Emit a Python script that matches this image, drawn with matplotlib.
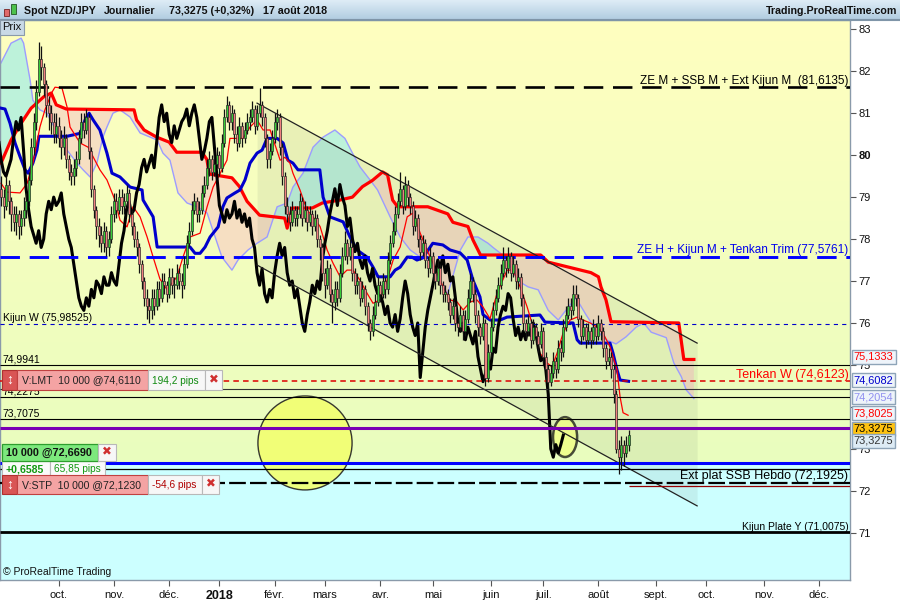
import numpy as np
import pandas as pd
import matplotlib
matplotlib.use('Agg')
import matplotlib.pyplot as plt
from matplotlib.patches import Rectangle, Ellipse

plt.rcParams['font.family'] = ['Liberation Sans', 'DejaVu Sans']
plt.rcParams['lines.scale_dashes'] = False
plt.rcParams['axes.unicode_minus'] = False

# ---------------- data ----------------
first_open = 79.2
closes = [
79.0,78.8,79.3,78.9,78.6,78.4,78.6,78.3,78.5,78.7,
78.9,79.4,80.2,80.8,81.5,82.3,82.1,81.7,81.2,81.0,
80.8,80.5,80.7,80.4,80.2,80.4,79.9,79.6,79.5,79.7,
79.9,80.4,80.8,80.6,80.9,80.1,79.2,78.7,78.3,
78.1,77.9,78.2,77.8,78.0,78.6,78.9,78.7,79.0,78.8,
78.9,79.1,78.6,78.3,78.0,77.8,77.4,77.0,76.6,76.4,
76.3,76.6,76.4,76.8,76.6,77.0,76.9,76.7,77.1,76.9,
76.9,77.2,77.0,76.9,77.4,77.9,78.2,78.7,78.9,78.6,
78.7,79.1,79.3,79.7,79.9,79.6,79.8,80.0,79.7,
80.3,80.9,81.2,80.8,81.0,80.5,80.3,80.7,80.4,80.6,
80.8,80.9,81.1,80.7,81.0,81.2,80.9,80.4,79.9,80.1,
80.4,80.8,80.9,80.2,79.5,78.8,78.6,78.4,78.7,78.5,
78.6,78.9,78.5,78.7,78.4,78.6,78.3,78.5,78.0,77.8,
77.2,76.9,77.3,76.7,76.5,76.8,76.6,77.2,77.6,
77.9,77.6,77.8,77.2,76.9,77.0,76.6,76.8,76.4,76.0,
75.8,76.2,76.5,76.9,76.7,77.0,76.8,77.5,77.9,78.2,
78.6,78.9,79.2,78.8,79.3,79.0,78.8,78.3,78.5,78.0,
77.7,77.9,77.5,77.3,77.6,77.2,77.0,77.3,76.9,76.7,
76.7,76.5,76.2,76.4,76.0,75.9,76.2,75.8,76.1,
76.6,77.0,76.7,76.2,75.9,75.7,76.0,74.7,75.3,75.9,
76.3,76.6,76.9,77.2,77.5,77.3,77.6,77.2,77.4,77.0,
77.1,76.6,76.0,75.8,76.0,75.6,75.9,75.7,75.5,75.8,
75.2,74.9,74.6,74.8,75.1,74.9,75.4,75.3,75.9,76.2,
76.4,76.3,76.7,76.6,76.1,75.7,75.9,75.6,75.8,
75.6,75.9,75.7,76.0,75.8,75.4,75.1,75.2,74.9,74.3,
73.0,72.8,73.1,72.9,73.1,73.3275]
highs = [
79.5,79.2,79.5,79.4,79.0,78.8,78.8,78.7,78.7,79.0,
79.1,79.6,80.4,81.0,81.8,82.7,82.6,82.2,81.8,81.4,
81.2,81.0,81.0,80.9,80.6,80.7,80.5,80.0,79.8,79.9,
80.1,80.6,81.0,81.0,81.1,81.0,80.2,79.3,78.8,
78.5,78.3,78.4,78.3,78.2,78.8,79.1,79.1,79.2,79.2,
79.1,79.3,79.2,78.7,78.4,78.2,77.9,77.5,77.1,76.8,
76.6,76.8,76.8,77.0,77.0,77.2,77.2,77.0,77.3,77.3,
77.1,77.4,77.3,77.2,77.6,78.1,78.4,78.9,79.1,79.0,
78.9,79.3,79.5,79.9,80.1,80.0,80.0,80.2,80.1,
80.5,81.1,81.4,81.3,81.2,81.1,80.7,80.9,80.8,80.8,
81.0,81.1,81.3,81.2,81.2,81.6,81.3,81.0,80.5,80.3,
80.6,81.0,81.1,81.0,80.3,79.6,79.0,78.8,78.9,78.8,
78.8,79.1,79.0,78.9,78.8,78.8,78.7,78.7,78.6,78.1,
77.9,77.3,77.5,77.4,76.8,77.0,77.0,77.4,77.8,
78.2,78.0,78.0,77.9,77.3,77.2,77.1,77.0,76.9,76.5,
76.1,76.4,76.7,77.1,77.0,77.2,77.1,77.7,78.1,78.4,
78.8,79.1,79.6,79.3,79.5,79.4,79.1,78.9,78.7,78.6,
78.1,78.1,78.0,77.6,77.8,77.7,77.3,77.5,77.4,77.0,
76.9,76.8,76.6,76.6,76.5,76.1,76.4,76.3,76.3,
76.8,77.2,77.1,76.8,76.3,76.0,76.2,76.1,75.5,76.1,
76.5,76.8,77.1,77.4,77.8,77.6,77.8,77.7,77.6,77.5,
77.3,77.2,76.7,76.1,76.2,76.1,76.1,76.0,75.8,76.0,
75.9,75.3,75.0,75.0,75.3,75.2,75.6,75.6,76.1,76.4,
76.6,76.6,76.9,76.9,76.7,76.2,76.1,76.0,76.0,
75.9,76.1,76.0,76.2,76.1,75.9,75.5,75.4,75.3,75.0,
74.4,73.2,73.3,73.2,73.3,73.45]
lows = [
78.8,78.5,78.7,78.6,78.2,78.2,78.1,78.0,78.1,78.3,
78.5,78.8,79.3,80.0,80.6,81.4,81.8,81.4,80.9,80.6,
80.5,80.3,80.3,80.2,79.9,80.0,79.7,79.4,79.3,79.3,
79.5,79.8,80.3,80.4,80.5,79.9,79.0,78.5,78.0,
77.8,77.7,77.7,77.6,77.6,77.9,78.4,78.5,78.6,78.6,
78.6,78.8,78.4,78.1,77.8,77.6,77.2,76.8,76.4,76.1,
76.0,76.1,76.2,76.3,76.4,76.5,76.7,76.5,76.6,76.7,
76.6,76.8,76.8,76.6,76.8,77.3,77.8,78.1,78.6,78.4,
78.4,78.6,79.0,79.2,79.5,79.4,79.5,79.7,79.5,
79.6,80.2,80.8,80.6,80.6,80.3,80.1,80.2,80.2,80.3,
80.5,80.6,80.8,80.5,80.6,80.9,80.7,80.2,79.7,79.7,
80.0,80.3,80.6,80.0,79.3,78.6,78.4,78.2,78.3,78.3,
78.3,78.5,78.3,78.4,78.2,78.3,78.1,78.2,77.8,77.5,
77.0,76.6,76.8,76.5,76.0,76.3,76.4,76.5,77.1,
77.5,77.4,77.5,77.0,76.7,76.7,76.4,76.5,76.2,75.8,
75.6,75.7,76.1,76.4,76.5,76.6,76.6,76.7,77.4,77.8,
78.1,78.5,78.8,78.6,78.7,78.8,78.6,78.1,78.2,77.8,
77.5,77.6,77.3,77.1,77.2,77.0,76.8,76.9,76.7,76.5,
76.5,76.3,76.0,76.1,75.8,75.7,75.8,75.6,75.7,
76.0,76.5,76.5,76.0,75.7,75.5,75.6,74.5,74.6,75.2,
75.8,76.2,76.5,76.8,77.1,77.1,77.2,77.0,77.1,76.8,
76.8,76.4,75.8,75.6,75.7,75.4,75.5,75.5,75.3,75.4,
75.0,74.6,74.4,74.5,74.7,74.7,74.8,75.1,75.2,75.8,
76.1,76.1,76.2,76.4,75.9,75.5,75.6,75.4,75.5,
75.4,75.5,75.5,75.6,75.6,75.2,74.9,75.0,74.7,74.1,
72.9,72.4,72.5,72.6,72.8,72.95]

# Ichimoku lines: (bar index, price)
ssb_pts = [(0,79.81),(4,80.36),(8,80.76),(12,81.12),(17,81.39),(20,81.48),(22,81.2),(26,81.1),(53,81.08),(54,80.84),(57,80.6),(62,80.43),(67,80.31),(70,80.07),(80,80.07),(82,79.9),(83,79.55),(92,79.46),(95,79.25),(98,78.9),(103,78.57),(113,78.5),(114,78.26),(116,78.74),(124,78.74),(128,78.86),(135,78.93),(140,79.0),(144,79.25),(148,79.4),(152,79.6),(154,79.53),(156,78.93),(158,78.77),(170,78.77),(178,78.6),(180,78.4),(186,78.3),(188,77.98),(191,77.62),(215,77.62),(218,77.45),(235,77.2),(238,77.1),(239,76.86),(241,76.55),(243,76.03),(270,76.0),(272,75.13),(276,75.13)]
ssa_pts = [(0,82.2),(4,82.67),(8,82.79),(9,82.67),(11.6,81.79),(12.7,81.31),(15.5,81.08),(18.3,81.0),(20.3,80.77),(23.5,80.43),(26.3,80.12),(30.3,79.81),(32.7,79.65),(35.5,79.48),(38.2,79.81),(40.6,80.43),(42.2,80.67),(44.6,81.0),(47.4,81.08),(51.4,80.91),(55.4,80.53),(59.4,80.43),(62.2,80.36),(64.5,80.05),(67.3,79.88),(70.5,79.1),(74.1,78.86),(78.1,78.77),(82.1,78.62),(85.3,78.05),(88,77.57),(92,77.26),(94.4,77.5),(98.4,77.74),(102,77.9),(106,78.05),(110,78.77),(114,78.86),(116.3,79.24),(120.3,79.57),(124.3,80.19),(128.3,80.43),(133,80.6),(137,80.4),(140,80.05),(143,79.72),(147,79.41),(150,79.17),(155,78.53),(159,78.05),(163,77.74),(167,77.57),(171,77.5),(175,76.95),(178,76.7),(183,77.74),(186,78.05),(190,78.05),(194,77.9),(196,77.8),(199,77.66),(203,77.33),(206,77.0),(210,76.86),(214,76.79),(218,76.3),(222,76.07),(225,76.3),(229,76.6),(233,76.2),(237,75.83),(241,75.6),(245,75.5),(249,75.67),(253,75.9),(256,76.0),(259,75.78),(265,75.65),(268,75.05),(271,74.72),(273,74.4),(276,74.2)]
kijun_pts = [(0,81.12),(1.6,81.1),(3.6,80.76),(5.6,80.29),(7.6,79.96),(9.6,79.65),(10.8,79.57),(12.7,79.81),(14.3,80.12),(15.1,80.45),(26.3,80.45),(31.5,80.52),(33.5,80.84),(35.1,81.0),(36.7,80.84),(39.4,80.6),(42.2,80.05),(44.2,79.57),(47.4,79.48),(51.4,79.24),(56.2,79.17),(56.6,78.93),(60.6,78.53),(62.2,77.81),(75.3,77.81),(77.3,77.66),(79.3,77.66),(81.3,77.81),(83.3,78.05),(86.5,78.29),(88.4,78.77),(90,78.98),(93.2,79.1),(95.2,79.17),(97.2,79.41),(99.2,79.81),(102,80.05),(104,80.12),(106,80.4),(110,80.4),(112.4,80.29),(114.3,79.88),(116.3,79.81),(118.3,79.65),(127,79.65),(128.3,79.0),(131,78.53),(136.3,78.41),(139,78.05),(141.8,77.74),(145.8,77.57),(148.2,77.33),(150.2,77.1),(155,77.1),(157,77.26),(159,77.33),(161.8,77.57),(163.7,77.57),(165.7,77.5),(168,77.55),(172,77.9),(176,77.86),(178.9,77.74),(182.9,77.67),(185.7,77.5),(188,77.02),(190.8,76.62),(192,76.2),(194.8,76.07),(198.8,76.07),(201.6,76.14),(214.7,76.19),(216.7,76.02),(227.9,76.0),(229.5,75.6),(230.7,75.52),(242.6,75.52),(243.8,75.28),(245.4,74.88),(246.6,74.64),(250,74.61)]
tenkan_pts = [(0,79.33),(2.4,79.12),(7.6,79.1),(10.4,79.33),(12.7,79.81),(15.5,80.67),(17.5,81.08),(20.3,81.5),(21.5,81.62),(24.3,81.6),(26.3,81.15),(27.5,80.67),(31.5,80.29),(34.7,80.19),(36.7,79.96),(39.4,79.65),(42.2,79.41),(45.4,78.93),(47.4,78.45),(50.2,78.29),(52.6,78.77),(55.4,78.53),(58.2,78.05),(60.6,77.57),(63.3,77.05),(66.1,76.8),(70.1,77.1),(72.5,77.57),(75.3,78.05),(79.3,78.14),(82.1,78.77),(84.5,79.24),(90,79.88),(91.2,80.4),(96.4,80.4),(99.2,80.67),(102,80.84),(104.4,80.6),(107.2,80.6),(111.2,79.88),(113.1,79.95),(115.1,79.81),(116.3,79.57),(119.1,79.17),(121.9,78.69),(124.3,78.53),(127.1,78.3),(129.9,77.74),(132.3,77.42),(135.1,77.1),(137.8,77.26),(140.2,77.26),(143,77.02),(145.8,76.71),(148.2,76.47),(151,76.55),(153.8,77.02),(156.2,77.5),(159,77.81),(161.8,78.53),(164.1,78.62),(167,78.14),(169.7,77.74),(172.1,77.42),(176.1,76.86),(178.9,76.55),(181.7,76.5),(184.1,76.31),(186.9,76.5),(189.6,76.55),(192,76.38),(194.8,76.1),(197.6,76.71),(201.6,77.26),(204,77.26),(206.8,76.86),(209.6,76.38),(212,75.9),(214.7,75.28),(217.5,75.05),(219.5,74.95),(221.5,75.28),(223.9,75.76),(226.7,76.07),(229.5,76.14),(231.9,76.07),(234.7,76.0),(237.5,75.9),(239.8,75.76),(242.6,75.43),(245.4,74.88),(246.6,74.24),(247.8,73.86),(249.8,73.8)]
chikou_shift = 26

# trend channel (bar index, price)
chan_x = [102.0, 277.3]
chan_up = [81.24, 75.52]
chan_lo = [77.38, 71.64]

# horizontal levels
ze_m = 81.6135
ze_h = 77.5761
kijun_w = 75.98525
lvl_a = 74.9941
lmt_price = 74.6110
tenkan_w = 74.6123
lvl_b = 74.42
lvl_c = 74.2275
lvl_d = 73.7075
purple_lvl = 73.49
entry_price = 72.6690
lvl_e = 72.53
ext_plat = 72.1925
stop_price = 72.1230
kijun_plate_y = 71.0075

# right-hand value tags: (text, price position, text colour, face colour)
tags = [("75,1333", 75.19, "#FF0000", "#EEF4FA"),
        ("74,6082", 74.64, "#0000CC", "#EEF4FA"),
        ("74,2054", 74.23, "#9090F0", "#EEF4FA"),
        ("73,8025", 73.85, "#FF0000", "#EEF4FA"),
        ("73,3275", 73.48, "#000000", "#FFC20E"),
        ("73,3275", 73.19, "#333333", "#DDEBF5")]

month_labels = ['oct.', 'nov.', 'déc.', '2018', 'févr.', 'mars', 'avr.', 'mai',
                'juin', 'juil.', 'août', 'sept.', 'oct.', 'nov.', 'déc.']
holidays = ['2017-12-25', '2018-01-01']

# ---------------- figure ----------------
W, H = 900, 600
AX_R, AX_T, AX_B = 850, 20, 580
YMIN, YMAX = 69.873, 83.222
XMIN, XMAX = -0.4, 338.2

fig = plt.figure(figsize=(9, 6), dpi=100)
fig.patch.set_facecolor('white')
ax = fig.add_axes([0, 1 - AX_B / H, AX_R / W, (AX_B - AX_T) / H])

n = len(closes)
x = np.arange(n)
dates = pd.bdate_range('2017-08-30', '2018-08-17')
dates = dates[~dates.isin(pd.to_datetime(holidays))]
future = pd.bdate_range('2018-08-20', '2018-12-31')
all_dates = dates.append(future)

# background
top_c = np.array([255, 255, 192]) / 255
bot_c = np.array([233, 253, 190]) / 255
t = np.linspace(0, 1, 256)[:, None]
grad = (top_c * (1 - t) + bot_c * t)[:, None, :]
ax.imshow(grad, extent=[XMIN, XMAX, entry_price, YMAX], aspect='auto',
          origin='upper', zorder=0, interpolation='bilinear')
ax.axhspan(YMIN, entry_price, color='#CCFFFF', zorder=0, lw=0)

# kumo
sx, sy = zip(*ssb_pts)
ax_, ay_ = zip(*ssa_pts)
g = np.linspace(0, max(sx), 3000)
a_i = np.interp(g, ax_, ay_)
b_i = np.interp(g, sx, sy)
ax.fill_between(g, a_i, b_i, where=a_i >= b_i, interpolate=True, color='#BDF2DA', lw=0, zorder=1)
ax.fill_between(g, a_i, b_i, where=a_i < b_i, interpolate=True, color='#F6DFC2', lw=0, zorder=1)

# channel
ax.fill_between(chan_x, chan_lo, chan_up, color='#6F7F6F', alpha=0.11, lw=0, zorder=1.5)
ax.plot(chan_x, chan_up, color='#222222', lw=0.9, zorder=3.2)
ax.plot(chan_x, chan_lo, color='#222222', lw=0.9, zorder=3.2)

# ellipses
ax.add_patch(Ellipse((121.1, 73.14), 37.5, 2.24, fc='#F2FF70', ec='#222222', lw=1.0, alpha=0.9, zorder=2))
ax.add_patch(Ellipse((224.7, 73.28), 9.6, 0.95, fc='#F2FF80', ec='#111111', lw=1.8, alpha=0.75, zorder=2))

# ichimoku lines
ax.plot(ax_, ay_, color='#9C9CFF', lw=1.0, zorder=2.5)
ax.plot(sx, sy, color='#FF0000', lw=2.3, zorder=3)
kx, ky = zip(*kijun_pts)
ax.plot(kx, ky, color='#0000CC', lw=2.2, zorder=3)
tx, ty = zip(*tenkan_pts)
ax.plot(tx, ty, color='#FF0000', lw=0.9, zorder=3)
cx = x - chikou_shift
m = cx >= -1
ax.plot(cx[m], np.array(closes)[m], color='#000000', lw=2.2, zorder=3, solid_joinstyle='round')

# horizontal levels
def hl(y, color, lw, dashes=None, x0=XMIN, z=3.5):
    ln, = ax.plot([x0, XMAX], [y, y], color=color, lw=lw, zorder=z, solid_capstyle='butt')
    if dashes:
        ln.set_dashes(dashes)

hl(ze_m, '#000000', 1.9, (14, 7))
hl(ze_h, '#0000FF', 2.1, (14, 7))
hl(kijun_w, '#0000CC', 0.8, (3, 3))
hl(lvl_a, '#000000', 0.8)
hl(lvl_b, '#333333', 0.8)
hl(lmt_price, '#DD0000', 1.1, (4, 3))
hl(lvl_c, '#000000', 0.8)
hl(lvl_d, '#000000', 0.8)
hl(purple_lvl, '#7A00B4', 2.2)
hl(entry_price, '#0000FF', 2.2)
hl(lvl_e, '#000000', 0.9)
hl(ext_plat, '#000000', 1.6, (12, 3))
hl(stop_price, '#990000', 0.9, x0=n - 1)
hl(kijun_plate_y, '#000000', 2.0)

# candles
opens = np.array([first_open] + closes[:-1])
cl = np.array(closes)
hi = np.maximum(np.array(highs), np.maximum(opens, cl))
lo = np.minimum(np.array(lows), np.minimum(opens, cl))
up = cl >= opens
body_lo = np.minimum(opens, cl)
body_h = np.maximum(np.abs(cl - opens), 0.03)
ax.vlines(x, lo, hi, color='#111111', lw=0.9, zorder=4.8)
ax.bar(x, body_h, bottom=body_lo, width=0.8,
       color=np.where(up, '#38CC38', '#F08080'), edgecolor='#222222', lw=0.45, zorder=5)

# level labels
ytr = ax.get_yaxis_transform()
ppu = (AX_B - AX_T) / (YMAX - YMIN)
def lab(xf, y, s, color='#000000', size=8, ha='right', dy_px=0.5):
    ax.text(xf, y + dy_px / ppu, s, transform=ytr, ha=ha, va='bottom', color=color,
            fontsize=size, zorder=6)
lab(0.998, ze_m, 'ZE M + SSB M + Ext Kijun M  (81,6135)', size=8.5)
lab(0.998, ze_h, 'ZE H + Kijun M + Tenkan Trim (77,5761)', color='#0000EE', size=8.5)
lab(0.998, lmt_price, 'Tenkan W (74,6123)', color='#FF0000', size=9)
lab(0.998, ext_plat, 'Ext plat SSB Hebdo (72,1925)', size=9)
lab(0.998, kijun_plate_y, 'Kijun Plate Y (71,0075)', size=7.5)
lab(0.003, kijun_w, 'Kijun W (75,98525)', size=7.5, ha='left')
lab(0.003, lvl_a, '74,9941', size=7.5, ha='left')
lab(0.003, lvl_c, '74,2275', size=7.5, ha='left')
lab(0.003, lvl_d, '73,7075', size=7.5, ha='left')
ax.text(0.003, 69.873 + 3 / ppu, '© ProRealTime Trading', transform=ytr, ha='left', va='bottom',
        fontsize=7.5, color='#111111', zorder=6)

# right-hand value tags
for s, yv, tc, fc in tags:
    ax.text(1.0045, yv, s, transform=ytr, ha='left', va='center', fontsize=7.9, color=tc,
            bbox=dict(boxstyle='square,pad=0.18', fc=fc, ec='#8EA4B8', lw=1.0),
            clip_on=False, zorder=10)

# axes styling
ax.set_xlim(XMIN, XMAX)
ax.set_ylim(YMIN, YMAX)
ax.yaxis.tick_right()
yt = list(range(71, 84))
ax.set_yticks(yt)
# the 74 label sits fully behind the value tags, as in the reference
ax.set_yticklabels(['' if v == 74 else str(v) for v in yt])
ax.tick_params(axis='y', direction='out', length=4, width=0.8, color='#555555',
               labelsize=8, pad=2, labelcolor='#111111')
for tl in ax.get_yticklabels():
    if tl.get_text() == '80':
        tl.set_fontweight('bold')

month_pos = []
for (yy, mm) in [(2017, 10), (2017, 11), (2017, 12)] + [(2018, k) for k in range(1, 13)]:
    sel = np.where((all_dates.year == yy) & (all_dates.month == mm))[0]
    month_pos.append(int(sel[0]))
ax.set_xticks(month_pos)
ax.set_xticklabels(month_labels)
ax.tick_params(axis='x', direction='out', length=4, width=0.8, color='#555555',
               labelsize=8, pad=3, labelcolor='#111111')
for tl in ax.get_xticklabels():
    if tl.get_text() == '2018':
        tl.set_fontweight('bold')
        tl.set_fontsize(9)
for sp in ax.spines.values():
    sp.set_color('#8A9AAA')
    sp.set_linewidth(1.0)

# ---------------- figure-level UI elements ----------------
def frect(x0, y0, x1, y1, fc, ec=None, lw=0.8, z=5):
    fig.add_artist(Rectangle((x0 / W, 1 - y1 / H), (x1 - x0) / W, (y1 - y0) / H,
                             transform=fig.transFigure, fc=fc, ec=ec if ec else fc, lw=lw, zorder=z))

def ftext(xp, yp, s, z=6, **kw):
    fig.text(xp / W, 1 - yp / H, s, zorder=z, **kw)

# header bar
hax = fig.add_axes([0, 1 - AX_T / H, 1, AX_T / H])
hg = np.linspace(0, 1, 32)[:, None]
hc = (np.array([222, 236, 246]) / 255 * (1 - hg) + np.array([176, 204, 224]) / 255 * hg)[:, None, :]
hax.imshow(hc, extent=[0, 1, 0, 1], aspect='auto', origin='upper')
hax.set_axis_off()
frect(0, 19, 900, 20, '#7F95A8', z=5)
frect(4, 9, 9, 16, '#E06A6A', ec='#772222', lw=0.6, z=6)
frect(11, 4, 16, 14, '#4CC24C', ec='#225522', lw=0.6, z=6)
for xp, s in [(24, 'Spot NZD/JPY'), (104, 'Journalier'), (169, '73,3275 (+0,32%)'), (263, '17 août 2018')]:
    ftext(xp, 10.5, s, fontsize=7.7, fontweight='bold', color='#111111', va='center', ha='left')
ftext(897, 10.5, 'Trading.ProRealTime.com', fontsize=7.7, fontweight='bold', color='#111111',
      va='center', ha='right')

# "Prix" tab
frect(0, 20, 24, 35, '#C9D9E6', ec='#8A9AAA', lw=0.8)
ftext(2, 27.5, 'Prix', fontsize=8, color='#111111', va='center', ha='left')

# order boxes
def order_row(y0, y1, main_text, pips_text, pips_color, xw_main=148, xw_pips=204):
    frect(2, y0, 17, y1, '#D95555', ec='#B03030', lw=0.8)
    ftext(9.5, (y0 + y1) / 2, '↕', fontsize=10, fontweight='bold', color='white', va='center', ha='center')
    frect(17, y0, xw_main, y1, '#F4A3A3', ec='#C04040', lw=0.8)
    ftext(22, (y0 + y1) / 2 + 0.5, main_text, fontsize=7.6, color='#222222', va='center', ha='left')
    frect(xw_main, y0, xw_pips, y1, '#F7F7F7', ec='#B8B8B8', lw=0.8)
    ftext(xw_main + 4, (y0 + y1) / 2 + 0.5, pips_text, fontsize=7.3, color=pips_color, va='center', ha='left')
    frect(xw_pips, y0, xw_pips + 17, y1, '#F7F7F7', ec='#B8B8B8', lw=0.8)
    ftext(xw_pips + 8.5, (y0 + y1) / 2, '✖', fontsize=8.5, color='#D03030', va='center', ha='center')

order_row(370, 390, 'V:LMT  10 000 @74,6110', '194,2 pips', '#108A10', 148, 205)

# position box
frect(2, 461, 50, 476, '#FAFAFA', ec='#B8B8B8', lw=0.8)
ftext(5, 469, '+0,6585', fontsize=7.6, fontweight='bold', color='#119911', va='center', ha='left')
frect(50, 461, 105, 476, '#FAFAFA', ec='#B8B8B8', lw=0.8)
ftext(54, 469, '65,85 pips', fontsize=7.3, color='#119911', va='center', ha='left')
frect(2, 444, 98, 461, '#7DE87D', ec='#2E9E2E', lw=0.9)
ftext(6, 452.5, '10 000 @72,6690', fontsize=7.8, fontweight='bold', color='#111111', va='center', ha='left')
frect(98, 444, 116, 461, '#F7F7F7', ec='#B8B8B8', lw=0.8)
ftext(107, 452.5, '✖', fontsize=8.5, color='#D03030', va='center', ha='center')

order_row(475, 494, 'V:STP  10 000 @72,1230', '-54,6 pips', '#B00000', 148, 202)

fig.savefig('out.png', dpi=100, facecolor='white')
